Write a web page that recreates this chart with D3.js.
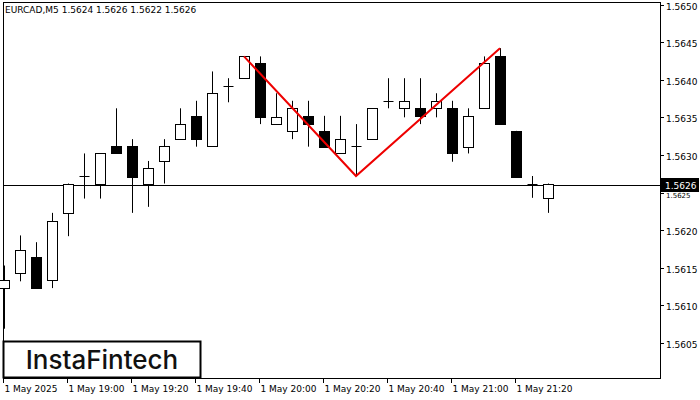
<!DOCTYPE html>
<html><head><meta charset="utf-8">
<script src="https://cdn.jsdelivr.net/npm/d3@7"></script>
<style>body{margin:0;background:#fff}svg{display:block}</style>
</head><body><svg id="c" width="700" height="400"></svg>
<script>
const opens  = [1.56123,1.56143,1.56164,1.56134,1.56223,1.56272,1.56262,1.56312,1.56312,1.56262,1.56292,1.56321,1.56352,1.56312,1.56392,1.56402,1.56422,1.56341,1.56332,1.56352,1.56332,1.56302,1.56312,1.56321,1.56372,1.56362,1.56362,1.56362,1.56362,1.56311,1.56362,1.56431,1.56332,1.56262,1.56243];
const highs  = [1.56153,1.56193,1.56184,1.56223,1.56262,1.56302,1.56302,1.56362,1.56321,1.56292,1.56321,1.56362,1.56372,1.56411,1.56402,1.56431,1.56431,1.56382,1.56372,1.56372,1.56352,1.56352,1.56341,1.56362,1.56402,1.56402,1.56402,1.56382,1.56372,1.56362,1.56431,1.56442,1.56332,1.56272,1.56262];
const lows   = [1.56069,1.56132,1.56123,1.56123,1.56192,1.56242,1.56242,1.56302,1.56223,1.56231,1.56262,1.56321,1.56311,1.56312,1.56370,1.56402,1.56341,1.56341,1.56321,1.56311,1.56311,1.56302,1.56272,1.56321,1.56362,1.56350,1.56341,1.56350,1.56291,1.56302,1.56362,1.56341,1.56271,1.56243,1.56223];
const closes = [1.56134,1.56173,1.56123,1.56212,1.56262,1.56272,1.56302,1.56302,1.56271,1.56282,1.56312,1.56341,1.56321,1.56382,1.56392,1.56431,1.56350,1.56350,1.56362,1.56341,1.56311,1.56321,1.56312,1.56362,1.56372,1.56372,1.56352,1.56372,1.56302,1.56352,1.56422,1.56341,1.56271,1.56262,1.56262];
const priceTicks = [1.5650,1.5645,1.5640,1.5635,1.5630,1.5625,1.5620,1.5615,1.5610,1.5605];
const timeLabels = ["1 May 2025","1 May 19:00","1 May 19:20","1 May 19:40","1 May 20:00","1 May 20:20","1 May 20:40","1 May 21:00","1 May 21:20"];
const timeLabelIdx = [0,4,8,12,16,20,24,28,32];
const patternIdx = [15,22,31];
const patternPrices = [1.56431,1.56272,1.56442];
const current = 1.5626;
const header = "EURCAD,M5  1.5624 1.5626 1.5622 1.5626";

const svg = d3.select("#c");
const y = d3.scaleLinear().domain([1.5605,1.5650]).range([343,4.5]);
const x = d3.scaleLinear().domain([0,1]).range([4,20]);
const L=3, R=660, T=2, B=378;
const F="DejaVu Sans";

svg.append("rect").attr("x",L+0.5).attr("y",T+0.5).attr("width",R-L).attr("height",B-T).attr("fill","none").attr("stroke","#000");
svg.append("text").attr("x",5).attr("y",13).attr("font-family",F).attr("font-size",9).text(header);

const g = svg.append("g");
g.append("line").attr("x1",L).attr("x2",R).attr("y1",Math.round(y(current))+0.5).attr("y2",Math.round(y(current))+0.5).attr("stroke","#000");

opens.forEach((o,i)=>{
  const cx = Math.round(x(i))+0.5;
  const up = closes[i]>=o;
  g.append("line").attr("x1",cx).attr("x2",cx).attr("y1",y(highs[i])).attr("y2",y(lows[i])).attr("stroke","#000");
  const top = Math.round(y(Math.max(o,closes[i]))), bot = Math.round(y(Math.min(o,closes[i])));
  if (bot-top<1) {
    g.append("line").attr("x1",cx-5).attr("x2",cx+5).attr("y1",top+0.5).attr("y2",top+0.5).attr("stroke","#000");
  } else {
    g.append("rect").attr("x",cx-5).attr("y",top+0.5).attr("width",10).attr("height",bot-top)
     .attr("fill",up?"#fff":"#000").attr("stroke","#000");
  }
});

g.append("path").attr("d",d3.line()(patternIdx.map((k,j)=>[x(k),y(patternPrices[j])])))
 .attr("fill","none").attr("stroke","#e00").attr("stroke-width",2);

const cy=Math.round(y(current));
priceTicks.forEach(p=>{
  const yy=Math.round(y(p))+0.5;
  svg.append("line").attr("x1",R).attr("x2",R+4).attr("y1",yy).attr("y2",yy).attr("stroke","#000");
  const t=svg.append("text").attr("x",666).attr("y",yy+4).attr("font-family",F).attr("font-size",9).text(p.toFixed(4));
  if (Math.abs(yy-cy)<12) t.attr("y",cy+13).attr("font-size",7);
});
svg.append("rect").attr("x",R+1).attr("y",cy-7).attr("width",38).attr("height",14).attr("fill","#000");
svg.append("text").attr("x",665).attr("y",cy+4).attr("font-family",F).attr("font-size",9).attr("fill","#fff").text(current.toFixed(4));

timeLabelIdx.forEach((k,j)=>{
  const xx=Math.round(x(k)-1)+0.5;
  svg.append("line").attr("x1",xx).attr("x2",xx).attr("y1",B).attr("y2",B+5).attr("stroke","#000");
  svg.append("text").attr("x",xx+1).attr("y",392).attr("font-family",F).attr("font-size",9).text(timeLabels[j]);
});

svg.append("rect").attr("x",3.5).attr("y",341.5).attr("width",197).attr("height",36).attr("fill","#fff").attr("stroke","#000").attr("stroke-width",2);
svg.append("text").attr("x",102).attr("y",369).attr("text-anchor","middle").attr("font-family","Inter, Lato, sans-serif").attr("font-weight",500).attr("font-size",26).attr("fill","#111").text("InstaFintech");
</script></body></html>
